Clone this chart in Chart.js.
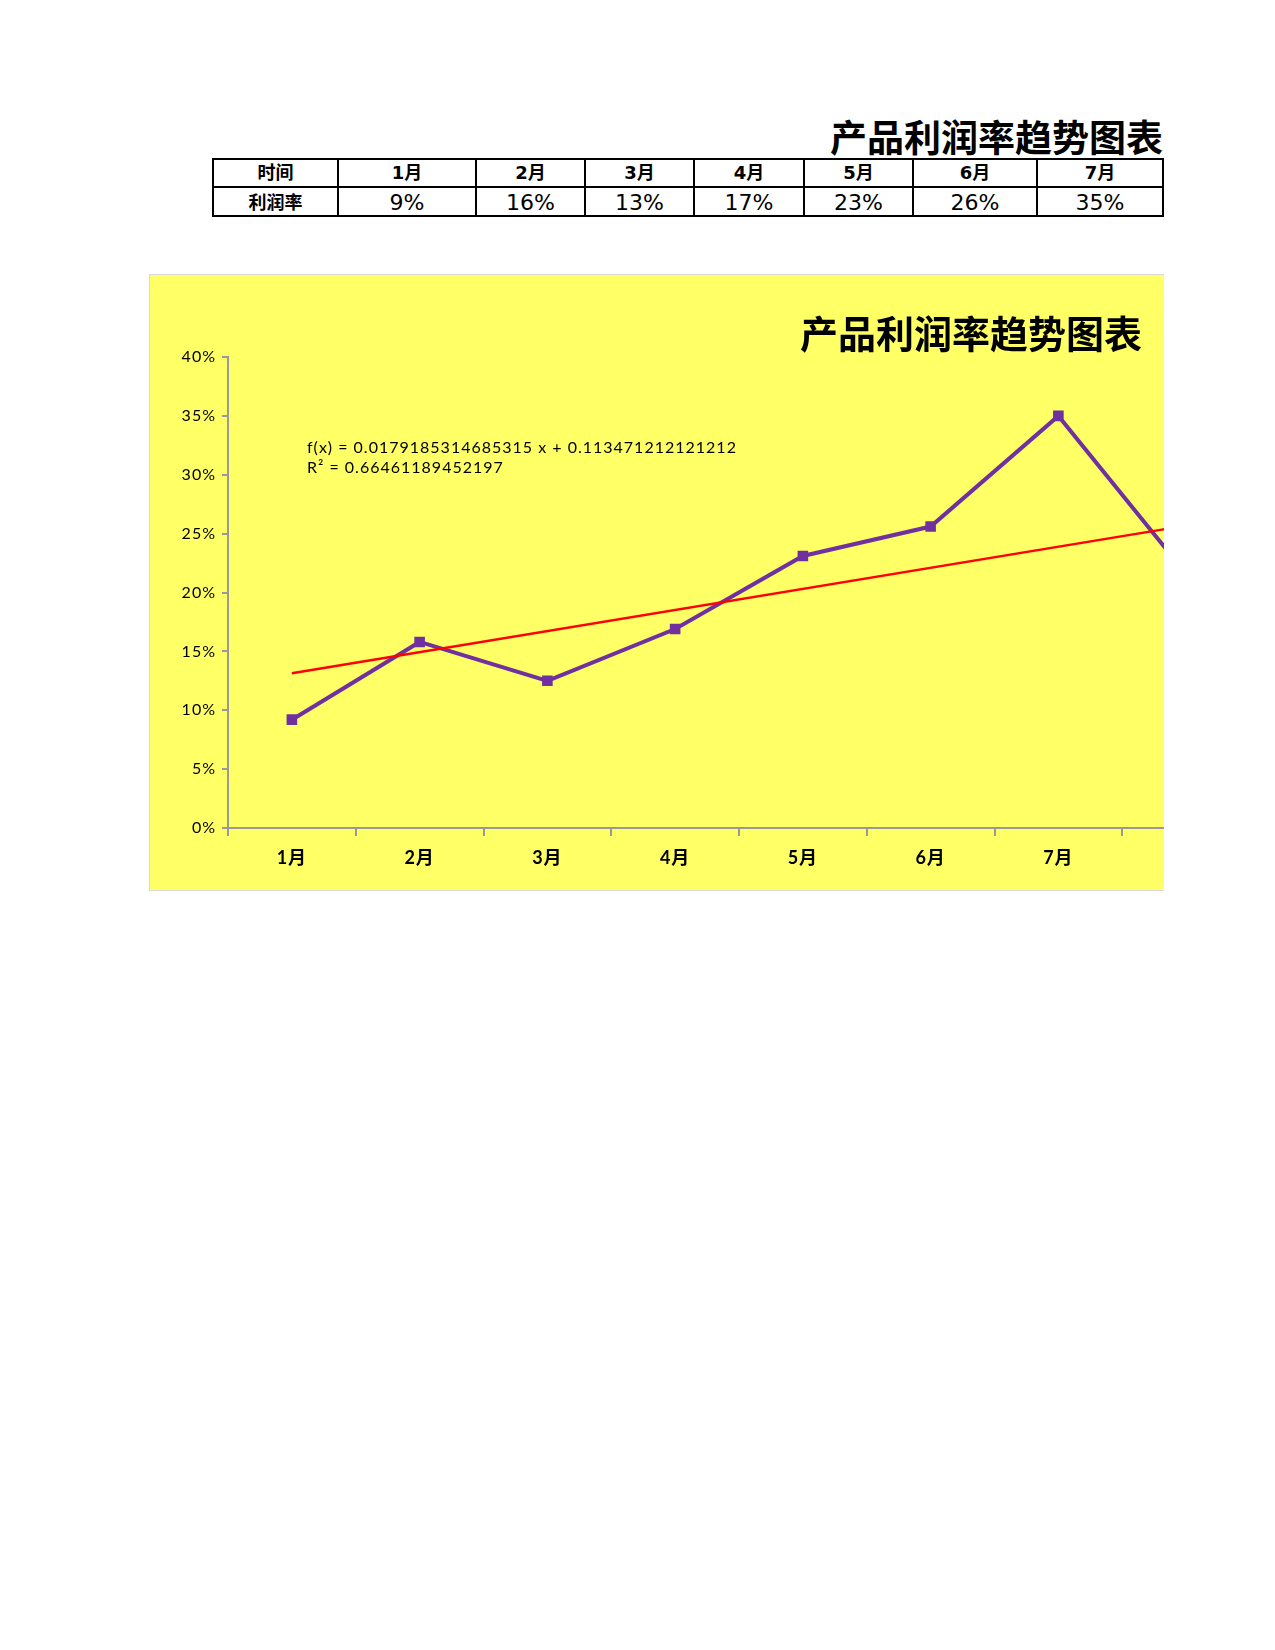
<!DOCTYPE html>
<html><head><meta charset="utf-8">
<script src="https://cdn.jsdelivr.net/npm/chart.js@4.4.0/dist/chart.umd.min.js"></script>
<style>
body{margin:0;background:#fff;width:1275px;height:1650px;position:relative;font-family:"DejaVu Sans","Noto Sans CJK SC",sans-serif;overflow:hidden;}
#pageTitle{position:absolute;right:112px;top:114px;font-family:"Noto Sans CJK SC";font-weight:bold;font-size:37px;line-height:44px;color:#000;white-space:nowrap;}
#tbl{position:absolute;left:212px;top:158px;border-collapse:collapse;table-layout:fixed;}
#tbl td{border:2px solid #000;padding:0;text-align:center;vertical-align:middle;color:#000;white-space:nowrap;overflow:hidden;}
#tbl tr.h td{height:26px;font-weight:bold;font-size:18px;line-height:24px;}
#tbl tr.v td{height:25px;font-size:22px;line-height:25px;padding-top:2px;}
#tbl tr.v td:first-child{font-weight:bold;font-size:18px;}
#box{position:absolute;left:149px;top:274px;width:1014px;height:615px;background:#FFFF66;overflow:hidden;border-top:1px solid #d9d9d9;border-left:1px solid #d9d9d9;border-bottom:1px solid #d9d9d9;}
#cv{position:absolute;left:0;top:0;}
#chartTitle{position:absolute;right:22px;top:35px;font-family:"Noto Sans CJK SC";font-weight:bold;font-size:38px;line-height:44px;color:#000;white-space:nowrap;}
#eq{position:absolute;left:157px;top:162px;font-family:Lato,"DejaVu Sans",sans-serif;font-size:16px;line-height:20px;letter-spacing:1px;color:#000;white-space:nowrap;}
</style>
</head><body>
<div id="pageTitle"></div>
<table id="tbl"><colgroup id="cols"></colgroup><tbody><tr class="h" id="rowH"></tr><tr class="v" id="rowV"></tr></tbody></table>
<div id="box">
<canvas id="cv" width="1120" height="615"></canvas>
<div id="chartTitle"></div>
<div id="eq"></div>
</div>
<script>
const titleText = '产品利润率趋势图表';
const tableHeader = ['时间','1月','2月','3月','4月','5月','6月','7月'];
const tableLabel = '利润率';
const tableValues = ['9%','16%','13%','17%','23%','26%','35%'];
const categories = ['1月','2月','3月','4月','5月','6月','7月',''];
const profitRate = [0.092,0.158,0.125,0.169,0.231,0.256,0.350,0.216];
const trendValues = [0.1314,null,null,null,null,null,null,0.2568];
const equationLines = ['f(x) = 0.0179185314685315 x + 0.113471212121212','R² = 0.66461189452197'];
const yTicks = [0,0.05,0.10,0.15,0.20,0.25,0.30,0.35,0.40];

const colWidths=[125,138,109,109,110,109,124,126];
document.getElementById('pageTitle').textContent=titleText;
document.getElementById('chartTitle').textContent=titleText;
document.getElementById('cols').innerHTML=colWidths.map(w=>'<col style="width:'+w+'px">').join('');
document.getElementById('rowH').innerHTML=tableHeader.map(t=>'<td>'+t+'</td>').join('');
document.getElementById('rowV').innerHTML='<td>'+tableLabel+'</td>'+tableValues.map(t=>'<td>'+t+'</td>').join('');
document.getElementById('eq').innerHTML=equationLines.join('<br>');

const spacing={id:'spacing',beforeDraw(c){c.ctx.letterSpacing='1px';}};
const axisColor='#999999';
new Chart(document.getElementById('cv'),{
  type:'line',
  plugins:[spacing],
  data:{labels:categories,datasets:[
    {label:'trend',data:trendValues,borderColor:'#FF0000',borderWidth:2.5,pointRadius:0,spanGaps:true,tension:0,fill:false},
    {label:'利润率',data:profitRate,borderColor:'#7030A0',backgroundColor:'#7030A0',borderWidth:4,pointStyle:'rect',pointRadius:7.5,pointBorderWidth:0,tension:0,fill:false}
  ]},
  options:{
    responsive:false,animation:false,devicePixelRatio:1,
    layout:{padding:{top:82,right:20,left:0,bottom:0}},
    plugins:{legend:{display:false},tooltip:{enabled:false},title:{display:false}},
    scales:{
      x:{type:'category',offset:true,
        grid:{display:true,drawOnChartArea:false,drawTicks:true,tickLength:8,color:axisColor,lineWidth:2,offset:true},
        border:{display:true,color:axisColor,width:2},
        ticks:{color:'#000',font:{family:'Lato, "Noto Sans CJK SC"',size:18,weight:'bold'},padding:11,maxRotation:0,autoSkip:false},
        afterFit(s){s.height=62;}
      },
      y:{min:0,max:0.4,
        afterBuildTicks(s){s.ticks=yTicks.map(v=>({value:v}));},
        ticks:{color:'#000',font:{family:'Lato',size:16},padding:6,callback:v=>Math.round(v*100)+'%'},
        grid:{display:true,drawOnChartArea:false,drawTicks:true,tickLength:6,color:axisColor,lineWidth:2},
        border:{display:true,color:axisColor,width:2},
        afterFit(s){s.width=78;}
      }
    }
  }
});
</script>
</body></html>
